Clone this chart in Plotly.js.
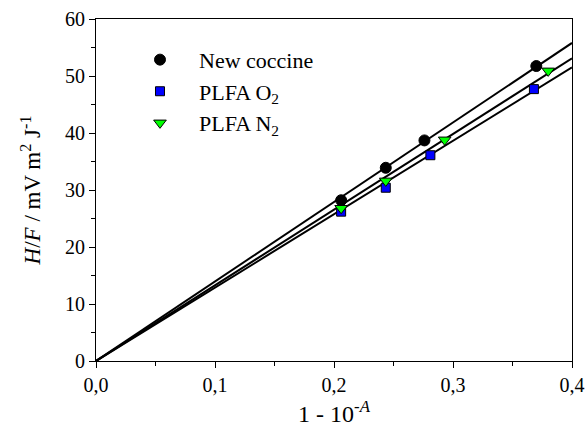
<!DOCTYPE html>
<html>
<head>
<meta charset="utf-8">
<script src="https://cdn.plot.ly/plotly-3.0.1.min.js"></script>
<style>html,body{margin:0;padding:0;background:#fff;}#chart{width:588px;height:448px;}</style>
</head>
<body>
<div id="chart"></div>
<script>
// Measured data
var ncX = [0.206, 0.2435, 0.276, 0.370];
var ncY = [28.2, 33.9, 38.7, 51.75];
var o2X = [0.206, 0.2435, 0.281, 0.368];
var o2Y = [26.2, 30.4, 36.1, 47.7];
var n2X = [0.206, 0.2435, 0.293, 0.380];
var n2Y = [26.8, 31.6, 38.8, 50.9];
// Fitted lines (through origin), endpoints
var fitX = [0, 0.4];
var fitNC = [0, 55.8];
var fitO2 = [0, 51.5];
var fitN2 = [0, 53.1];
var xTickVals = [0, 0.1, 0.2, 0.3, 0.4];
var xTickText = ['0,0', '0,1', '0,2', '0,3', '0,4'];
var yTickVals = [0, 10, 20, 30, 40, 50, 60];

var serif = 'Liberation Serif';
var lineStyle = {color: '#000', width: 2};

var data = [
  {x: fitX, y: fitNC, mode: 'lines', line: lineStyle, showlegend: false, hoverinfo: 'skip'},
  {x: fitX, y: fitO2, mode: 'lines', line: lineStyle, showlegend: false, hoverinfo: 'skip'},
  {x: fitX, y: fitN2, mode: 'lines', line: lineStyle, showlegend: false, hoverinfo: 'skip'},
  {x: ncX, y: ncY, mode: 'markers', name: 'New coccine', legendgroup: 'a',
   marker: {symbol: 'circle', size: 11, color: '#000', line: {color: '#000', width: 1}}},
  {x: o2X, y: o2Y, mode: 'markers', name: 'PLFA O<sub>2</sub>', legendgroup: 'b',
   marker: {symbol: 'square', size: 9, color: '#0000ff', line: {color: '#000', width: 1}}},
  {x: n2X, y: n2Y, mode: 'markers', name: 'PLFA N<sub>2</sub>', legendgroup: 'c',
   marker: {symbol: 'triangle-down', size: 11, color: '#00ff00', line: {color: '#000', width: 1}}}
];

var layout = {
  width: 588, height: 448,
  margin: {l: 96, r: 16, t: 19, b: 87},
  paper_bgcolor: '#fff', plot_bgcolor: '#fff',
  font: {family: serif, color: '#000', size: 20},
  showlegend: true,
  legend: {x: 0.0525, y: 0.942, xanchor: 'left', yanchor: 'top', bgcolor: 'rgba(0,0,0,0)',
           font: {family: serif, size: 22, color: '#000'}, tracegroupgap: 0, itemwidth: 68},
  xaxis: {
    range: [0, 0.4], showgrid: false, zeroline: false,
    showline: true, linecolor: '#000', linewidth: 1, mirror: true,
    ticks: 'outside', ticklen: 6, tickcolor: '#000', tickwidth: 1,
    tickvals: xTickVals, ticktext: xTickText,
    minor: {dtick: 0.05, ticks: 'outside', ticklen: 4, tickcolor: '#000'},
    tickfont: {family: serif, size: 20, color: '#000'},
    title: {text: '1 - 10<sup>-<i>A</i></sup>', font: {family: serif, size: 24, color: '#000'}, standoff: 10}
  },
  yaxis: {
    range: [0, 60], showgrid: false, zeroline: false,
    showline: true, linecolor: '#000', linewidth: 1, mirror: true,
    ticks: 'outside', ticklen: 6, tickcolor: '#000', tickwidth: 1,
    tickvals: yTickVals,
    minor: {dtick: 5, ticks: 'outside', ticklen: 4, tickcolor: '#000'},
    tickfont: {family: serif, size: 20, color: '#000'},
    title: {text: '<i>H</i>/<i>F</i> / mV m<sup>2</sup> J<sup>-1</sup>', font: {family: serif, size: 23, color: '#000'}, standoff: 17}
  }
};

Plotly.newPlot('chart', data, layout, {displayModeBar: false, staticPlot: true});
</script>
</body>
</html>
